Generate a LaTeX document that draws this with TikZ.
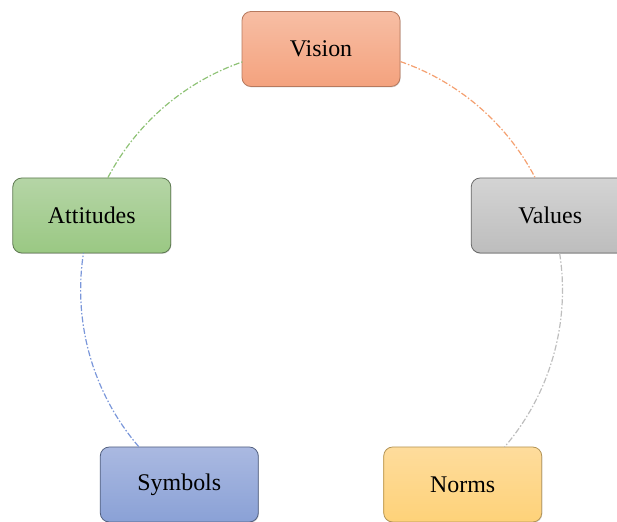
\documentclass[tikz,border=0pt]{standalone}
\usepackage{fontspec}
\setmainfont{Liberation Serif}
\usetikzlibrary{shadows}
\definecolor{visTop}{HTML}{F7BEA4}
\definecolor{visBot}{HTML}{F4A27E}
\definecolor{visLine}{HTML}{F4A070}
\definecolor{valTop}{HTML}{D4D4D4}
\definecolor{valBot}{HTML}{BDBDBD}
\definecolor{valLine}{HTML}{BEBEBE}
\definecolor{attTop}{HTML}{B5D5A6}
\definecolor{attBot}{HTML}{9AC883}
\definecolor{attLine}{HTML}{8EC275}
\definecolor{symTop}{HTML}{AAB9E1}
\definecolor{symBot}{HTML}{8AA1D6}
\definecolor{symLine}{HTML}{7B97DA}
\definecolor{nrmTop}{HTML}{FEDC9C}
\definecolor{nrmBot}{HTML}{FED279}
\tikzset{
  cyclebox/.style={rounded corners=9bp, minimum width=158bp, minimum height=75bp,
    inner sep=0pt, font=\fontsize{24}{28}\selectfont, text=black, line width=0.8bp,
    drop shadow={shadow xshift=0.6bp, shadow yshift=-0.9bp, opacity=0.35}},
  cyclearc/.style={line width=1.2bp, dash pattern=on 6bp off 2bp on 1.5bp off 2bp},
}
\begin{document}
\begin{tikzpicture}[x=1bp, y=1bp]
  \useasboundingbox (0,0) rectangle (617,522);
  \clip (0,0) rectangle (617,522);
  % five stages on a circle centred at (321,232), radius 241
  \node[cyclebox, draw=visBot!75!black, top color=visTop, bottom color=visBot] (vision) at (321,473) {Vision};
  \node[cyclebox, draw=valBot!55!black, top color=valTop, bottom color=valBot] (values) at (550.2,306.5) {Values};
  \node[cyclebox, draw=nrmBot!70!black, top color=nrmTop, bottom color=nrmBot] (norms) at (462.7,37.5) {Norms};
  \node[cyclebox, draw=symBot!60!black, top color=symTop, bottom color=symBot] (symbols) at (179.3,37.5) {Symbols};
  \node[cyclebox, draw=attBot!60!black, top color=attTop, bottom color=attBot] (attitudes) at (91.8,306.5) {Attitudes};
  % connecting arcs along the same circle
  \draw[cyclearc, visLine] (vision.-9.6) arc[start angle=70.9, end angle=27.7, radius=241];
  \draw[cyclearc, valLine] (values.-76.6) arc[start angle=8.8, end angle=-40.6, radius=241];
  \draw[cyclearc, symLine] (symbols.137.6) arc[start angle=220.6, end angle=171.2, radius=241];
  \draw[cyclearc, attLine] (attitudes.67.2) arc[start angle=152.3, end angle=109.1, radius=241];
\end{tikzpicture}
\end{document}
